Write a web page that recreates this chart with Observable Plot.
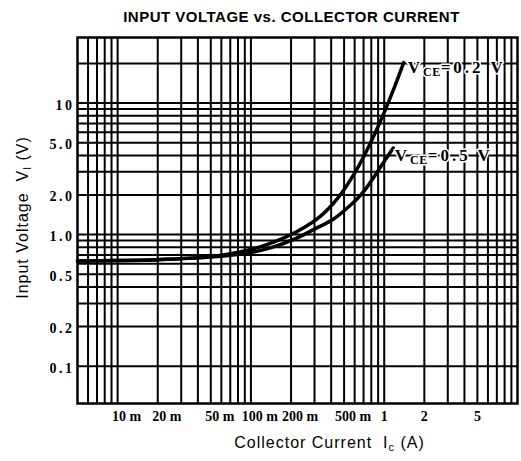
<!DOCTYPE html>
<html><head><meta charset="utf-8">
<script src="https://cdn.jsdelivr.net/npm/d3@7"></script>
<script src="https://cdn.jsdelivr.net/npm/@observablehq/plot@0.6"></script>
<style>
body{margin:0;background:#fff}
svg{display:block}
</style>
</head><body><div id="chart"></div>
<script>
const title = "INPUT VOLTAGE vs. COLLECTOR CURRENT";
const xLabel = "Collector Current  Ic (A)";
const yLabel = "Input Voltage  VI (V)";

const xTickValuesMilli = [0.01, 0.02, 0.05, 0.1, 0.2, 0.5];
const xTickLabelsMilli = ["10 m", "20 m", "50 m", "100 m", "200 m", "500 m"];
const xTickValuesUnit = [1, 2, 5];
const xTickLabelsUnit = ["1", "2", "5"];
const yTickValues = [0.1, 0.2, 0.5, 1, 2, 5, 10];
const yTickLabels = ["0.1", "0.2", "0.5", "1.0", "2.0", "5.0", "10"];

const xGridValues = [0.006,0.007,0.008,0.009,
  0.01,0.02,0.03,0.04,0.05,0.06,0.07,0.08,0.09,
  0.1,0.2,0.3,0.4,0.5,0.6,0.7,0.8,0.9,
  1,2,3,4,5,6,7,8,9];
const yGridValues = [0.1,0.2,0.3,0.4,0.5,0.6,0.7,0.8,0.9,
  1,2,3,4,5,6,7,8,9,10,20];

// V_CE = 0.2 V
const currentVce02 = [0.005, 0.01, 0.02, 0.05, 0.1, 0.15, 0.22, 0.33, 0.45, 0.6, 0.7, 0.85, 1.0, 1.2, 1.4];
const voltageVce02 = [0.63, 0.635, 0.645, 0.68, 0.77, 0.88, 1.05, 1.37, 1.9, 2.93, 3.9, 5.85, 8.5, 13.4, 20.3];
// V_CE = 0.5 V
const currentVce05 = [0.005, 0.01, 0.02, 0.05, 0.1, 0.15, 0.22, 0.3, 0.42, 0.56, 0.63, 0.72, 0.83, 1.0, 1.17];
const voltageVce05 = [0.63, 0.635, 0.645, 0.675, 0.73, 0.81, 0.94, 1.1, 1.32, 1.68, 1.88, 2.2, 2.7, 3.6, 4.55];

const seriesLabels = ["VCE=0.2 V", "VCE=0.5 V"];
const labelCurrent = [1.5, 1.2];
const labelVoltage = [18.5, 4.0];

const rows02 = currentVce02.map((c, i) => ({current: c, voltage: voltageVce02[i]}));
const rows05 = currentVce05.map((c, i) => ({current: c, voltage: voltageVce05[i]}));
const labelRows = seriesLabels.map((t, i) => ({text: t, current: labelCurrent[i], voltage: labelVoltage[i]}));

const tickFont = {fontFamily: "Liberation Serif", fontWeight: "bold", fontSize: 14, fill: "#000"};

const chart = Plot.plot({
  width: 521,
  height: 461,
  marginLeft: 77,
  marginRight: 4,
  marginTop: 37,
  marginBottom: 58,
  style: {background: "#fff", color: "#000"},
  x: {type: "log", domain: [0.005, 10], axis: null},
  y: {type: "log", domain: [0.052, 31.5], axis: null},
  marks: [
    Plot.gridX(xGridValues, {stroke: "#000", strokeOpacity: 1, strokeWidth: 2}),
    Plot.gridY(yGridValues, {stroke: "#000", strokeOpacity: 1, strokeWidth: 2}),
    Plot.frame({stroke: "#000", strokeWidth: 2.5}),
    Plot.line(rows02, {x: "current", y: "voltage", curve: "catmull-rom", stroke: "#000", strokeWidth: 3.5}),
    Plot.line(rows05, {x: "current", y: "voltage", curve: "catmull-rom", stroke: "#000", strokeWidth: 3.5}),
    Plot.text(labelRows, {x: "current", y: "voltage", text: "text", textAnchor: "start",
      fontFamily: "Liberation Serif", fontWeight: "bold", fontSize: 17,
      fill: "#000", stroke: "#fff", strokeWidth: 3}),
    Plot.text(xTickValuesMilli, {x: d => d, text: (d, i) => xTickLabelsMilli[i],
      frameAnchor: "bottom", lineAnchor: "top", dy: 8, dx: 9, ...tickFont}),
    Plot.text(xTickValuesUnit, {x: d => d, text: (d, i) => xTickLabelsUnit[i],
      frameAnchor: "bottom", lineAnchor: "top", dy: 8, ...tickFont}),
    Plot.text(yTickValues, {y: d => d, text: (d, i) => yTickLabels[i],
      frameAnchor: "left", textAnchor: "end", dx: -3, dy: 2, ...tickFont}),
    Plot.text([title], {frameAnchor: "top", textAnchor: "middle", lineAnchor: "middle", dy: -20, dx: -6,
      fontFamily: "Liberation Sans", fontWeight: "bold", fontSize: 15, fill: "#000"}),
    Plot.text([xLabel], {frameAnchor: "bottom", textAnchor: "middle", lineAnchor: "middle", dy: 39, dx: 32,
      fontFamily: "Liberation Sans", fontSize: 16, fill: "#000"}),
    Plot.text([yLabel], {frameAnchor: "left", textAnchor: "middle", lineAnchor: "middle", rotate: -90, dx: -55, dy: -3,
      fontFamily: "Liberation Sans", fontSize: 16, fill: "#000"})
  ]
});

// subscripts and letter spacing
d3.select(chart).selectAll("text").each(function() {
  const t = this.textContent;
  const sel = d3.select(this);
  function build(parts, spacing) {
    sel.text(null);
    sel.style("letter-spacing", spacing + "px");
    parts.forEach(([s, sub, subSpacing], i) => {
      const ts = sel.append("tspan").text(s);
      if (sub) {
        ts.attr("font-size", sub).attr("dy", 3);
        if (subSpacing != null) ts.style("letter-spacing", subSpacing + "px");
      }
      else if (i > 0) ts.attr("dy", -3);
    });
  }
  if (t === xLabel) build([["Collector Current  I"], ["c", 11], [" (A)"]], 1);
  else if (t === yLabel) build([["Input Voltage  V"], ["I", 10], [" (V)"]], 1);
  else if (t === seriesLabels[0]) build([["V"], ["CE", 12, 0.5], ["=0.2 V"]], 3);
  else if (t === seriesLabels[1]) build([["V"], ["CE", 12, 0.5], ["=0.5 V"]], 3);
  else if (yTickLabels.includes(t)) sel.style("letter-spacing", "2.5px");
  else if (t === title) sel.style("letter-spacing", "0.5px");
});

document.getElementById("chart").appendChild(chart);
</script>
</body></html>
